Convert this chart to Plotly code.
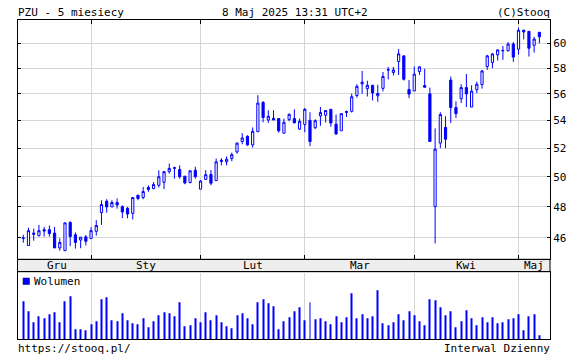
import math
import pandas as pd
import plotly.graph_objects as go

# ---------------- data ----------------
holidays = ["2024-12-24", "2024-12-25", "2024-12-26", "2024-12-31", "2025-01-01",
            "2025-01-06", "2025-04-18", "2025-04-21", "2025-05-01"]
dates = pd.bdate_range("2024-12-09", "2025-05-08", freq="C", holidays=holidays)

open_ = [45.97, 45.53, 46.31, 46.15, 46.52, 46.52, 46.31, 45.38, 45.21, 46.98,
         46.20, 45.87, 46.07, 45.96, 46.42, 47.62, 48.37, 47.99, 48.28, 48.01,
         47.90, 47.57, 48.77, 48.61, 49.28, 49.21, 49.43, 49.63, 50.36, 50.58,
         50.51, 50.05, 49.61, 50.45, 49.17, 49.83, 50.17, 49.75, 51.06, 51.04,
         51.27, 51.73, 52.47, 52.85, 52.23, 53.18, 55.35, 54.04, 54.16, 54.14,
         53.07, 54.07, 54.14, 53.37, 53.71, 54.01, 53.47, 54.34, 54.39, 54.83,
         53.73, 53.25, 54.59, 54.68, 55.87, 56.77, 56.40, 56.66, 55.85, 56.42,
         57.84, 57.66, 58.53, 58.98, 56.34, 56.22, 57.73, 56.64, 56.00, 48.01,
         52.36, 53.49, 57.06, 54.96, 55.63, 56.48, 55.00, 56.32, 56.72, 58.13,
         58.45, 59.06, 59.38, 59.40, 59.94, 59.52, 61.08, 60.99, 59.84, 60.91]
high = [46.20, 46.64, 46.59, 46.83, 46.70, 46.79, 46.70, 45.98, 46.96, 47.07,
        46.35, 46.05, 46.18, 46.68, 47.13, 48.43, 48.50, 48.43, 48.55, 48.10,
        47.99, 48.61, 48.77, 49.32, 49.43, 49.65, 50.45, 50.38, 50.92, 50.70,
        50.79, 50.06, 50.42, 50.70, 49.79, 50.47, 50.47, 51.27, 51.29, 51.42,
        51.68, 52.40, 53.07, 52.92, 53.49, 55.90, 55.45, 54.76, 54.76, 54.14,
        54.14, 54.51, 54.83, 54.14, 54.93, 54.61, 54.09, 55.01, 54.78, 54.83,
        54.44, 54.51, 54.74, 56.02, 56.74, 57.78, 57.01, 56.66, 56.70, 57.70,
        58.10, 58.10, 59.53, 58.98, 57.06, 58.13, 58.15, 57.95, 56.48, 53.42,
        54.61, 54.31, 57.33, 55.43, 56.74, 57.54, 56.66, 56.93, 57.86, 59.06,
        59.20, 59.52, 59.78, 60.10, 60.10, 61.30, 61.13, 60.99, 60.53, 60.91]
low = [45.70, 45.53, 45.83, 46.09, 46.09, 46.09, 45.38, 45.21, 45.21, 45.49,
       45.34, 45.36, 45.53, 45.94, 46.15, 46.83, 47.62, 47.99, 47.88, 47.27,
       47.25, 47.18, 48.43, 48.50, 48.99, 49.17, 49.28, 49.17, 50.22, 49.88,
       49.88, 49.50, 49.57, 49.88, 49.17, 49.79, 49.43, 49.75, 50.79, 50.79,
       51.08, 51.61, 52.28, 52.16, 52.04, 53.18, 53.87, 53.82, 54.04, 53.11,
       53.07, 53.94, 53.82, 53.32, 53.14, 52.14, 53.37, 53.61, 53.85, 53.54,
       52.95, 53.25, 54.26, 54.59, 55.72, 56.00, 55.80, 55.50, 55.40, 56.20,
       57.12, 57.42, 57.46, 57.03, 55.67, 56.22, 57.46, 56.48, 52.47, 45.66,
       52.00, 52.00, 53.82, 54.19, 55.30, 55.00, 55.00, 56.05, 56.40, 57.86,
       58.00, 58.61, 58.66, 59.33, 58.50, 59.09, 60.32, 58.93, 59.25, 60.00]
close = [46.00, 46.46, 46.24, 46.46, 46.44, 46.28, 45.38, 45.72, 46.96, 46.09,
         45.72, 46.05, 45.79, 46.46, 46.79, 48.15, 47.99, 48.28, 48.12, 47.66,
         47.53, 48.61, 48.55, 49.01, 49.15, 49.48, 50.01, 50.36, 50.58, 50.63,
         50.01, 49.59, 50.42, 50.01, 49.72, 50.15, 49.57, 51.04, 51.15, 51.22,
         51.54, 52.36, 52.73, 52.23, 53.21, 55.30, 54.22, 54.31, 54.04, 53.25,
         53.87, 54.46, 53.82, 53.94, 54.83, 52.47, 53.99, 54.59, 54.74, 53.82,
         53.02, 54.51, 54.66, 55.78, 56.58, 56.90, 56.66, 56.07, 56.03, 57.35,
         57.88, 57.86, 59.14, 57.13, 55.98, 57.53, 58.10, 56.51, 52.47, 51.93,
         54.44, 52.64, 54.96, 54.51, 56.48, 56.00, 56.21, 56.74, 57.78, 58.98,
         59.14, 59.46, 59.42, 59.94, 58.88, 61.08, 60.94, 59.60, 60.35, 60.53]
volume = [1900, 1400, 850, 1150, 1050, 1250, 1350, 850, 1900, 2150,
          500, 500, 450, 750, 900, 2000, 2100, 950, 900, 1300,
          950, 800, 750, 1050, 600, 900, 1200, 1350, 1300, 1150,
          1850, 650, 700, 1050, 850, 1350, 950, 1200, 850, 650,
          550, 1200, 1300, 1050, 750, 1850, 2000, 1800, 1650, 500,
          900, 1100, 1400, 1600, 950, 1850, 1000, 1050, 900, 750,
          1150, 850, 1100, 2300, 1050, 1250, 1050, 1150, 2450, 800,
          700, 850, 1250, 950, 1400, 1200, 900, 700, 2000, 1950,
          1600, 1200, 1400, 600, 900, 1450, 1050, 700, 1100, 850,
          1100, 800, 850, 1000, 1050, 1250, 450, 1150, 1250, 200]

month_names = {12: "Gru", 1: "Sty", 2: "Lut", 3: "Mar", 4: "Kwi", 5: "Maj"}
price_ticks = [46, 48, 50, 52, 54, 56, 58, 60]

title_left = "PZU - 5 miesiecy"
title_mid = "8 Maj 2025 13:31 UTC+2"
title_right = "(C)Stooq"
foot_left = "https://stooq.pl/"
foot_right = "Interwal Dzienny"

# ---------------- derived ----------------
idx = list(range(len(dates)))
month_starts = [i for i in idx if i == 0 or dates[i].month != dates[i - 1].month]
grid_vals = month_starts[1:]
XR = [-1.11, 101.04]
bounds = month_starts + [XR[1]]
label_pos = [(bounds[k] + bounds[k + 1]) / 2 for k in range(len(month_starts))]
label_txt = [month_names[dates[i].month] for i in month_starts]

W, H = 571, 357
def px_x(p):
    return p / W
def px_y(p):
    return (H - p) / H

xl, xr = px_x(17.5), px_x(550)
main_dom = [px_y(259.3), px_y(20)]
vol_dom = [px_y(339.3), px_y(271.7)]

BLUE = "#0000ff"
FONT = "DejaVu Sans Mono"
GRID = "#d6d6d6"

fig = go.Figure()
fig.add_trace(go.Candlestick(
    x=idx, open=open_, high=high, low=low, close=close,
    increasing=dict(line=dict(color=BLUE, width=1), fillcolor="white"),
    decreasing=dict(line=dict(color=BLUE, width=1), fillcolor=BLUE),
    whiskerwidth=0, showlegend=False, hoverinfo="skip",
    xaxis="x", yaxis="y"))
fig.add_trace(go.Bar(
    x=idx, y=volume, width=0.19, marker=dict(color=BLUE, line=dict(width=0)),
    showlegend=False, hoverinfo="skip", xaxis="x2", yaxis="y2"))

ymin, ymax = 44.68, 61.94
fig.update_layout(
    width=W, height=H, autosize=False,
    margin=dict(l=0, r=0, t=0, b=0, pad=0),
    paper_bgcolor="white", plot_bgcolor="white",
    showlegend=False, boxgap=0.4,
    font=dict(family=FONT, size=11, color="#000000"),
    xaxis=dict(domain=[xl, xr], range=XR, anchor="y",
               tickmode="array", tickvals=grid_vals, showticklabels=False,
               ticks="inside", ticklen=4, tickcolor="black",
               showgrid=True, gridcolor=GRID, gridwidth=1, zeroline=False,
               showline=True, linecolor="black", linewidth=1, mirror="allticks",
               rangeslider=dict(visible=False), fixedrange=True),
    yaxis=dict(domain=main_dom, type="log",
               range=[math.log10(ymin), math.log10(ymax)],
               side="right", anchor="x",
               tickmode="array", tickvals=price_ticks,
               ticktext=[str(v) for v in price_ticks],
               ticks="inside", ticklen=3, tickcolor="black",
               showgrid=True, gridcolor=GRID, gridwidth=1, zeroline=False,
               showline=True, linecolor="black", linewidth=1, mirror="ticks",
               tickfont=dict(family=FONT, size=11, color="#000000"),
               fixedrange=True),
    xaxis2=dict(domain=[xl, xr], range=XR, anchor="y2",
                tickmode="array", tickvals=grid_vals, showticklabels=False,
                ticks="", showgrid=True, gridcolor=GRID, gridwidth=1,
                zeroline=False, showline=True, linecolor="black", linewidth=1,
                mirror=True, fixedrange=True),
    yaxis2=dict(domain=vol_dom, range=[0, 3380], anchor="x2",
                showticklabels=False, ticks="", showgrid=False, zeroline=False,
                showline=True, linecolor="black", linewidth=1, mirror=True,
                fixedrange=True),
)

# month band
fig.add_shape(type="rect", xref="paper", yref="paper",
              x0=xl, x1=xr, y0=vol_dom[1], y1=main_dom[0],
              fillcolor="#eeeeee", line=dict(color="black", width=1), layer="below")
band_mid = (vol_dom[1] + main_dom[0]) / 2
for xp, t in zip(label_pos, label_txt):
    fig.add_annotation(x=xp, y=band_mid, xref="x", yref="paper", text=t,
                       showarrow=False, xanchor="center", yanchor="middle",
                       font=dict(family=FONT, size=11, color="#000000"))

# header / footer
fig.add_annotation(x=px_x(16), y=px_y(13), xref="paper", yref="paper", text=title_left,
                   showarrow=False, xanchor="left", yanchor="middle")
fig.add_annotation(x=px_x(295), y=px_y(13), xref="paper", yref="paper", text=title_mid,
                   showarrow=False, xanchor="center", yanchor="middle")
fig.add_annotation(x=px_x(552), y=px_y(13), xref="paper", yref="paper", text=title_right,
                   showarrow=False, xanchor="right", yanchor="middle")
fig.add_annotation(x=px_x(16), y=px_y(348), xref="paper", yref="paper", text=foot_left,
                   showarrow=False, xanchor="left", yanchor="middle")
fig.add_annotation(x=px_x(552), y=px_y(348), xref="paper", yref="paper", text=foot_right,
                   showarrow=False, xanchor="right", yanchor="middle")

# volume legend
fig.add_shape(type="rect", xref="paper", yref="paper",
              x0=px_x(23), x1=px_x(29.5), y0=px_y(284.5), y1=px_y(278),
              fillcolor=BLUE, line=dict(color="#000066", width=0.5))
fig.add_annotation(x=px_x(31.5), y=px_y(281.5), xref="paper", yref="paper", text="Wolumen",
                   showarrow=False, xanchor="left", yanchor="middle")

fig.write_html("out.html", config={"displayModeBar": False},
               post_script="document.body.style.margin='0px';document.body.style.padding='0px';")
